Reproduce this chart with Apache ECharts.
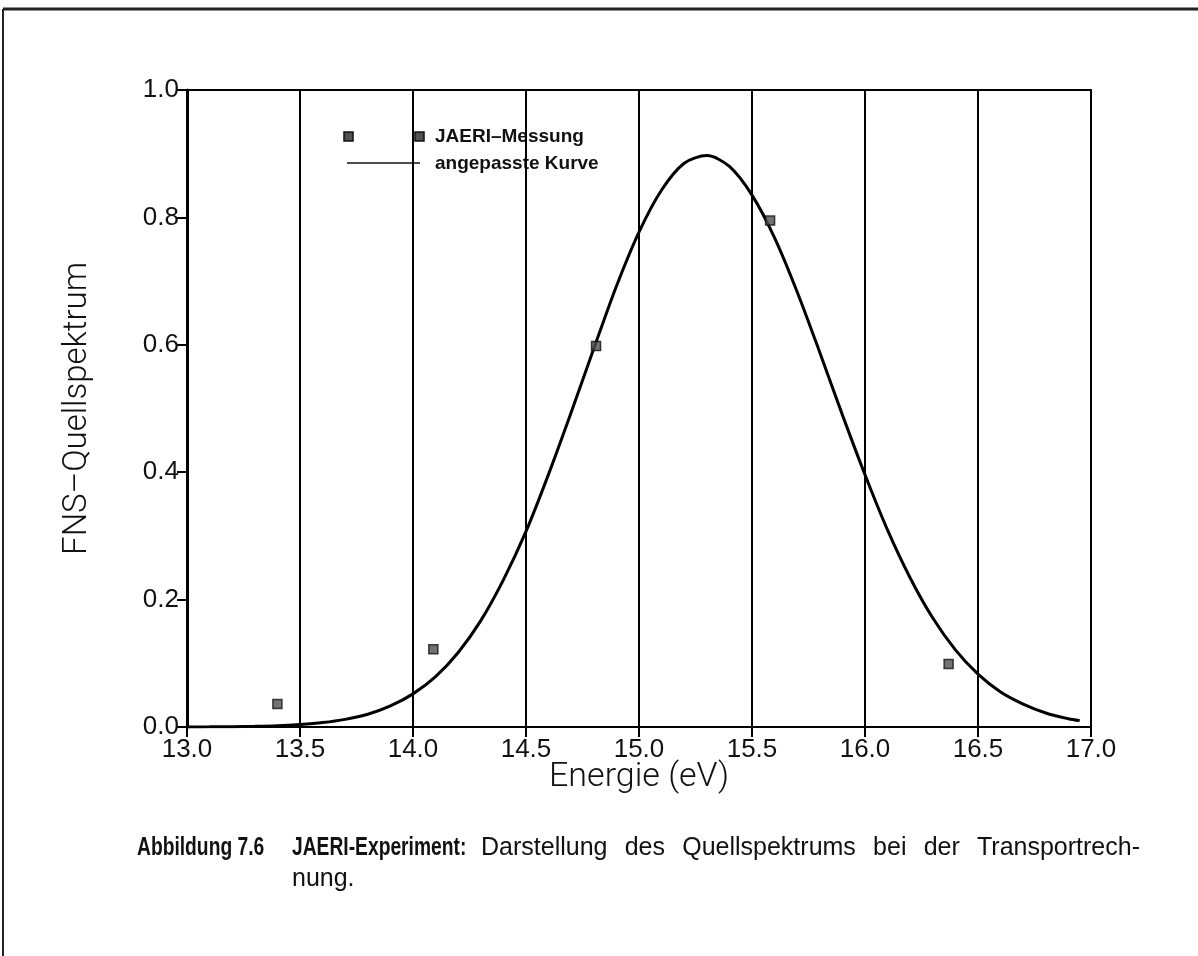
<!DOCTYPE html>
<html>
<head>
<meta charset="utf-8">
<script src="https://cdn.jsdelivr.net/npm/echarts@6/dist/echarts.min.js"></script>
<style>
  html, body { margin: 0; padding: 0; background: #fff; }
  #chart { width: 1198px; height: 956px; }
</style>
</head>
<body>
<div id="chart"></div>
<script>
// Measured JAERI source spectrum points (energy in eV, relative intensity)
const measEnergy = [13.40, 14.09, 14.81, 15.58, 16.37];
const measValue  = [0.036, 0.122, 0.598, 0.795, 0.099];

// Fitted curve, sampled along the energy axis
const fitEnergy = [13.0, 13.1, 13.2, 13.3, 13.4, 13.5, 13.6, 13.7, 13.8, 13.9,
                   14.0, 14.1, 14.2, 14.3, 14.4, 14.5, 14.6, 14.7, 14.8, 14.9,
                   15.0, 15.1, 15.2, 15.3, 15.4, 15.5, 15.6, 15.7, 15.8, 15.9,
                   16.0, 16.1, 16.2, 16.3, 16.4, 16.5, 16.6, 16.7, 16.8, 16.9, 16.95];
const fitValue  = [0.0001, 0.0002, 0.0005, 0.001, 0.002, 0.004, 0.007, 0.012, 0.020, 0.033,
                   0.052, 0.079, 0.117, 0.167, 0.231, 0.307, 0.397, 0.494, 0.594, 0.692,
                   0.777, 0.843, 0.885, 0.897, 0.880, 0.835, 0.768, 0.683, 0.588, 0.490,
                   0.396, 0.309, 0.234, 0.171, 0.121, 0.083, 0.055, 0.036, 0.022, 0.013, 0.010];

// Axis settings
const xMin = 13.0, xMax = 17.0, xStep = 0.5;
const yMin = 0.0,  yMax = 1.0,  yStep = 0.2;

const legendLabels = ['JAERI\u2013Messung', 'angepasste Kurve'];
const xTitle = 'Energie (eV)';
const yTitle = 'FNS\u2013Quellspektrum';

const captionLabel = 'Abbildung 7.6';
const captionHead = 'JAERI-Experiment:';
const captionText1 = 'Darstellung des Quellspektrums bei der Transportrech-';
const captionText2 = 'nung.';

const pairs = (xs, ys) => xs.map((x, i) => [x, ys[i]]);

const chart = echarts.init(document.getElementById('chart'), null, { renderer: 'canvas' });

const tickFont = { color: '#111', fontFamily: 'Liberation Sans, Arial, sans-serif', fontSize: 26 };
const titleFont = { color: '#111', fontFamily: 'Roboto, Liberation Sans, sans-serif', fontWeight: 300, fontSize: 34 };
const legendFont = { fill: '#111', fontFamily: 'Liberation Sans, Arial, sans-serif', fontWeight: 'bold', fontSize: 19 };

// Caption typography: condensed bold headings, justified body line
const capFamily = 'Liberation Sans, Arial, sans-serif';
const capBoldSize = 25, capBoldScaleX = 0.77;
const capBodySize = 25;
const capLeft = 481, capRight = 1140, capY = 848;

function captionWord(text, x, y, bold) {
  return {
    type: 'text', x: x, y: y, scaleX: bold ? capBoldScaleX : 1, originX: 0, originY: 0,
    style: { text: text, fill: '#111', fontFamily: capFamily,
             fontSize: bold ? capBoldSize : capBodySize,
             fontWeight: bold ? 'bold' : 'normal', verticalAlign: 'middle' }
  };
}

function justifiedLine(text, left, right, y) {
  const ctx = document.createElement('canvas').getContext('2d');
  ctx.font = 'normal ' + capBodySize + 'px ' + capFamily;
  const words = text.split(' ');
  const widths = words.map(w => ctx.measureText(w).width);
  const total = widths.reduce((a, b) => a + b, 0);
  const gap = (right - left - total) / (words.length - 1);
  const out = [];
  let x = left;
  words.forEach((w, i) => { out.push(captionWord(w, x, y, false)); x += widths[i] + gap; });
  return out;
}

chart.setOption({
  animation: false,
  backgroundColor: '#fff',
  grid: {
    left: 187, right: 107, top: 90, bottom: 229,
    show: true, borderColor: '#000', borderWidth: 2, backgroundColor: 'transparent'
  },
  xAxis: {
    type: 'value', min: xMin, max: xMax, interval: xStep,
    name: xTitle, nameLocation: 'middle', nameGap: 33, nameMoveOverlap: false, nameTextStyle: titleFont,
    axisLine: { show: true, onZero: false, lineStyle: { color: '#000', width: 2 } },
    axisTick: { show: true, length: 10, lineStyle: { color: '#000', width: 2 } },
    axisLabel: { ...tickFont, margin: 10, formatter: v => v.toFixed(1) },
    splitLine: { show: true, lineStyle: { color: '#000', width: 2 } }
  },
  yAxis: {
    type: 'value', min: yMin, max: yMax, interval: yStep,
    name: yTitle, nameLocation: 'middle', nameGap: 93, nameMoveOverlap: false, nameRotate: 90,
    nameTextStyle: { ...titleFont, fontSize: 33 },
    axisLine: { show: true, lineStyle: { color: '#000', width: 3 } },
    axisTick: { show: true, length: 10, lineStyle: { color: '#000', width: 2 } },
    axisLabel: { ...tickFont, margin: 8, formatter: v => v.toFixed(1) },
    splitLine: { show: false }
  },
  series: [
    {
      name: legendLabels[1], type: 'line', data: pairs(fitEnergy, fitValue),
      smooth: 0.3, showSymbol: false, z: 3,
      lineStyle: { color: '#000', width: 3 }
    },
    {
      name: legendLabels[0], type: 'scatter', data: pairs(measEnergy, measValue),
      symbol: 'rect', symbolSize: 9, z: 4,
      itemStyle: { color: '#505050', borderColor: '#111', borderWidth: 1.5 }
    }
  ],
  graphic: [
    // page frame lines
    { type: 'line', shape: { x1: 3, y1: 9, x2: 1198, y2: 9 }, style: { stroke: '#222', lineWidth: 3 } },
    { type: 'line', shape: { x1: 3, y1: 9, x2: 3, y2: 956 }, style: { stroke: '#222', lineWidth: 2 } },
    // legend
    { type: 'rect', shape: { x: 344, y: 132, width: 9, height: 9 }, style: { fill: '#505050', stroke: '#111', lineWidth: 1.5 } },
    { type: 'rect', shape: { x: 415, y: 132, width: 9, height: 9 }, style: { fill: '#505050', stroke: '#111', lineWidth: 1.5 } },
    { type: 'text', x: 435, y: 137, style: { text: legendLabels[0], ...legendFont, verticalAlign: 'middle' } },
    { type: 'line', shape: { x1: 347, y1: 163, x2: 420, y2: 163 }, style: { stroke: '#111', lineWidth: 1.5 } },
    { type: 'text', x: 435, y: 164, style: { text: legendLabels[1], ...legendFont, verticalAlign: 'middle' } },
    // caption
    captionWord(captionLabel, 137, capY, true),
    captionWord(captionHead, 292, capY, true),
    ...justifiedLine(captionText1, capLeft, capRight, capY),
    captionWord(captionText2, 292, capY + 31, false)
  ]
});
</script>
</body>
</html>
